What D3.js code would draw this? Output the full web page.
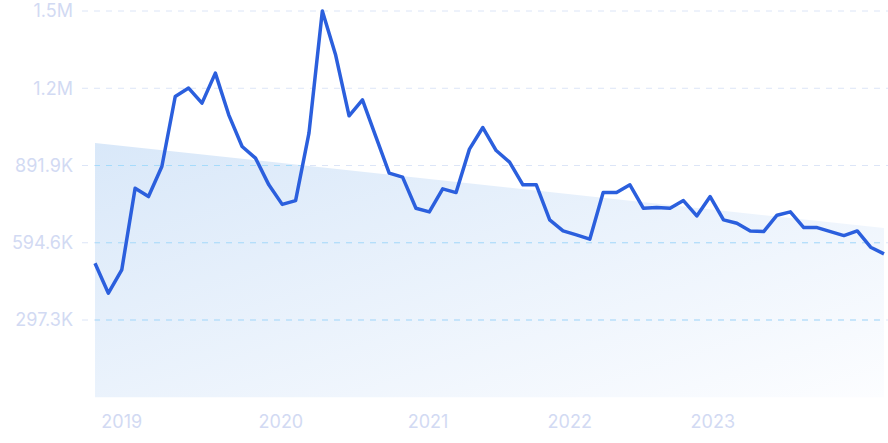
<!DOCTYPE html>
<html>
<head>
<meta charset="utf-8">
<script src="https://cdn.jsdelivr.net/npm/d3@7"></script>
<style>
  html, body { margin: 0; padding: 0; background: #ffffff; }
  svg { display: block; }
  text { font-family: Inter, "Noto Sans", sans-serif; }
</style>
</head>
<body>
<svg id="chart" width="888" height="443"></svg>
<script>
// Monthly values (thousands)
const values = [
  515.8, 400.3, 490.0, 804.7, 772.3, 887.9, 1157.4, 1189.8, 1132.0, 1247.5,
  1087.0, 964.9, 920.2, 817.4, 742.3, 756.9, 1016.5, 1486.5, 1316.0, 1083.1,
  1144.7, 1003.4, 862.4, 847.0, 727.6, 713.4, 802.0, 787.7, 954.9, 1038.0,
  949.5, 904.8, 817.4, 817.4, 682.6, 640.2, 624.8, 608.3, 787.7, 787.7,
  817.4, 727.6, 730.0, 727.6, 756.9, 698.0, 772.3, 682.6, 669.9, 640.2,
  637.5, 700.7, 713.4, 652.9, 652.9, 637.5, 622.1, 640.2, 577.5, 551.7
];
const yTicks = [297.3, 594.6, 891.9, 1189.2, 1486.5];
const yMax = 1486.5;
const xTickLabels = ["2019", "2020", "2021", "2022", "2023"];
const xTickAt = [2, 13.9, 24.9, 35.5, 46.2];

const svg = d3.select("#chart");
const x = d3.scaleLinear().domain([0, values.length - 1]).range([95, 884]);
const y = d3.scaleLinear().domain([0, yMax]).range([397.25, 11]);

const fmt = v => v >= 1000 ? (v / 1000).toFixed(1) + "M" : v.toFixed(1) + "K";

// regression trend
const idx = values.map((d, i) => i);
const mx = d3.mean(idx), my = d3.mean(values);
const slope = d3.sum(idx, i => (i - mx) * (values[i] - my)) / d3.sum(idx, i => (i - mx) * (i - mx));
const intercept = my - slope * mx;
const trend = i => intercept + slope * i;

const defs = svg.append("defs");
const grad = defs.append("linearGradient").attr("id", "areaGrad")
  .attr("x1", 0).attr("y1", 0).attr("x2", 1).attr("y2", 1);
grad.append("stop").attr("offset", 0).attr("stop-color", "#d9e8f9");
grad.append("stop").attr("offset", 1).attr("stop-color", "#fcfdff");

const areaGen = d3.area().x(d => x(d)).y0(y(0)).y1(d => y(trend(d)));
const ends = [0, values.length - 1];
defs.append("clipPath").attr("id", "areaClip").append("path").attr("d", areaGen(ends));

svg.append("path").attr("d", areaGen(ends)).attr("fill", "url(#areaGrad)");

// gridlines
const grid = svg.append("g");
grid.selectAll("line").data(yTicks).join("line")
  .attr("x1", 82).attr("x2", 888)
  .attr("y1", d => y(d)).attr("y2", d => y(d))
  .attr("stroke", "#dce5f7").attr("stroke-width", 1)
  .attr("stroke-dasharray", "6,6");
svg.append("g").attr("clip-path", "url(#areaClip)")
  .selectAll("line").data(yTicks).join("line")
  .attr("x1", 82).attr("x2", 888)
  .attr("y1", d => y(d)).attr("y2", d => y(d))
  .attr("stroke", "#a6dbfb").attr("stroke-width", 1)
  .attr("stroke-dasharray", "6,6");

// y labels
svg.append("g").selectAll("text").data(yTicks).join("text")
  .attr("x", 73).attr("y", d => y(d)).attr("dy", "0.36em")
  .attr("text-anchor", "end").attr("font-size", 18)
  .attr("fill", "#d2daf3").text(fmt);

// x labels
svg.append("g").selectAll("text").data(xTickLabels).join("text")
  .attr("x", (d, i) => x(xTickAt[i])).attr("y", 428)
  .attr("text-anchor", "middle").attr("font-size", 18)
  .attr("fill", "#d2daf3").text(d => d);

// line
const line = d3.line().x((d, i) => x(i)).y(d => y(d));
svg.append("path").attr("d", line(values))
  .attr("fill", "none").attr("stroke", "#2b5fdd")
  .attr("stroke-width", 3.5).attr("stroke-linejoin", "round").attr("stroke-linecap", "butt");
</script>
</body>
</html>
